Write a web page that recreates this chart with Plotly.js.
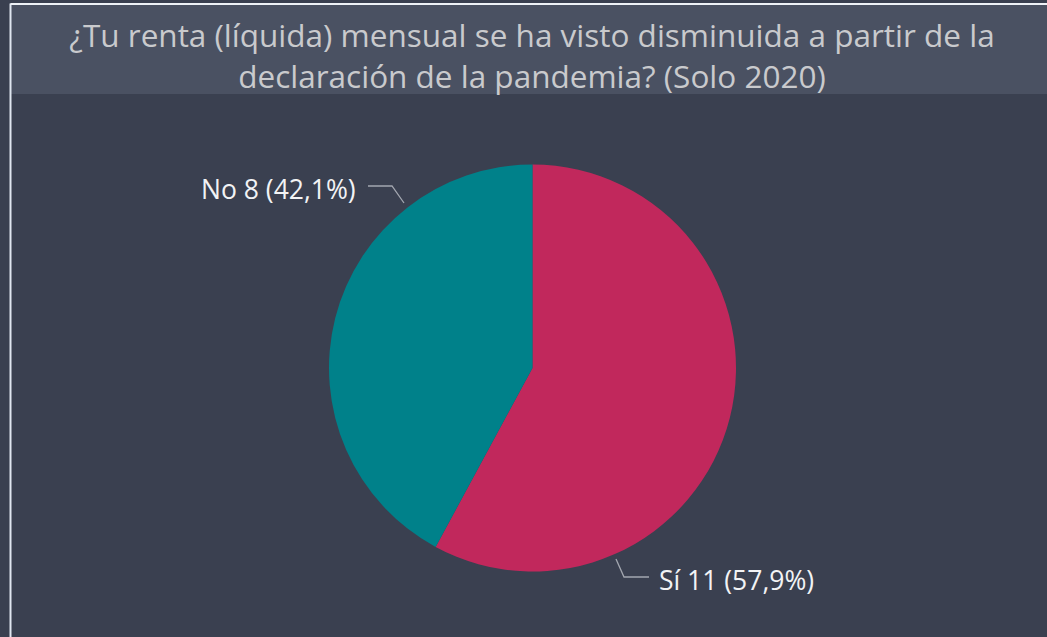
<!DOCTYPE html>
<html>
<head>
<meta charset="utf-8">
<script src="https://cdn.plot.ly/plotly-3.0.1.min.js"></script>
<style>html,body{margin:0;padding:0;background:#3a4050;}#chart{width:1047px;height:637px;}</style>
</head>
<body>
<div id="chart"></div>
<script>
const categories = ["Sí", "No"];
const counts = [11, 8];
const colors = ["#c1285c", "#00818a"];
const chartTitle = "¿Tu renta (líquida) mensual se ha visto disminuida a partir de la<br>declaración de la pandemia? (Solo 2020)";

const W = 1047, H = 637;
const cx = 532.5, cy = 368, R = 203.5;
const total = counts.reduce((a, b) => a + b, 0);
const labelText = categories.map((c, i) =>
  c + " " + counts[i] + " (" + (counts[i] / total * 100).toFixed(1).replace(".", ",") + "%)");

const px = x => x / W;
const py = y => 1 - y / H;

const trace = {
  type: "pie",
  labels: categories,
  values: counts,
  sort: false,
  direction: "clockwise",
  rotation: 0,
  marker: {colors: colors, line: {width: 0}},
  textinfo: "none",
  hoverinfo: "none",
  showlegend: false,
  domain: {x: [px(cx - R), px(cx + R)], y: [py(cy + R), py(cy - R)]}
};

const lineStyle = {color: "#a3a7b0", width: 1.3};
const layout = {
  width: W, height: H,
  margin: {l: 0, r: 0, t: 0, b: 0},
  paper_bgcolor: "#3a4050",
  plot_bgcolor: "#3a4050",
  font: {family: "Open Sans, Noto Sans, sans-serif"},
  title: {
    text: chartTitle,
    x: px(532), xanchor: "center",
    y: py(47), yanchor: "middle", yref: "container",
    font: {size: 31.5, color: "#c9cacd", family: "Open Sans, Noto Sans, sans-serif"}
  },
  shapes: [
    {type: "rect", xref: "paper", yref: "paper", x0: px(11), x1: 1, y0: py(94), y1: py(5),
     fillcolor: "#4a5162", line: {width: 0}, layer: "below"},
    {type: "line", xref: "paper", yref: "paper", x0: px(10.5), x1: px(10.5), y0: 0, y1: py(3.5),
     line: {color: "#dfe6f0", width: 2}},
    {type: "line", xref: "paper", yref: "paper", x0: px(10.5), x1: 1, y0: py(4), y1: py(4),
     line: {color: "#eef2f7", width: 2}},
    {type: "path", xref: "paper", yref: "paper",
     path: "M" + px(368) + "," + py(186) + " L" + px(392) + "," + py(186) + " L" + px(404) + "," + py(203),
     line: lineStyle},
    {type: "path", xref: "paper", yref: "paper",
     path: "M" + px(616) + "," + py(559) + " L" + px(624) + "," + py(577) + " L" + px(649) + "," + py(577),
     line: lineStyle}
  ],
  annotations: [
    {xref: "paper", yref: "paper", x: px(358), y: py(189), xanchor: "right", yanchor: "middle",
     text: labelText[1], showarrow: false, font: {size: 26.5, color: "#f2f3f5"}},
    {xref: "paper", yref: "paper", x: px(657), y: py(580), xanchor: "left", yanchor: "middle",
     text: labelText[0], showarrow: false, font: {size: 26.5, color: "#f2f3f5"}}
  ]
};

Plotly.newPlot("chart", [trace], layout, {displayModeBar: false, staticPlot: true});
</script>
</body>
</html>
